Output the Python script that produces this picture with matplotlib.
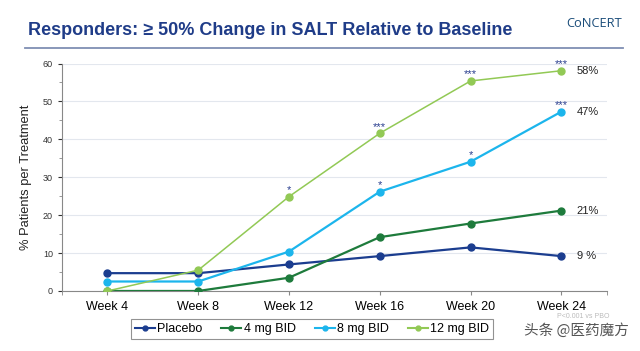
import matplotlib
matplotlib.use("Agg")
import matplotlib.pyplot as plt
from matplotlib.lines import Line2D

weeks = ["Week 4", "Week 8", "Week 12", "Week 16", "Week 20", "Week 24"]
placebo = [4.7, 4.7, 7.0, 9.2, 11.5, 9.2]
mg4 = [0.0, 0.0, 3.5, 14.2, 17.8, 21.2]
mg8 = [2.5, 2.5, 10.4, 26.2, 34.1, 47.3]
mg12 = [0.0, 5.5, 24.9, 41.6, 55.4, 58.1]
series_names = ["Placebo", "4 mg BID", "8 mg BID", "12 mg BID"]
end_labels = ["9 %", "21%", "47%", "58%"]
# significance marks: (series index, week index, text)
sig_marks = [(3, 2, "*"), (3, 3, "***"), (2, 3, "*"), (2, 4, "*"), (3, 4, "***"),
             (3, 5, "***"), (2, 5, "***")]

colors = ["#1B3D8F", "#1E7B3C", "#1CB5EC", "#92C955"]
plt.rcParams['font.family'] = ['Liberation Sans', 'DejaVu Sans']

fig = plt.figure(figsize=(6.4, 3.51), dpi=100)
ax = fig.add_axes([0.097, 0.171, 0.851, 0.648])

data = [placebo, mg4, mg8, mg12]
x = list(range(len(weeks)))
for i, (vals, c) in enumerate(zip(data, colors)):
    lw = 1.1 if i == 3 else 1.6
    ax.plot(x, vals, color=c, lw=lw, marker='o', ms=5, zorder=3)

for si, wi, t in sig_marks:
    ax.text(wi, data[si][wi] + 0.9, t, color="#2A3F8F", fontsize=8,
            ha='center', va='baseline')

for vals, lab in zip(data, end_labels):
    ax.text(5.17, vals[-1], lab, fontsize=8, va='center', ha='left', color='#222222')

ax.set_xlim(-0.5, 5.5)
ax.set_ylim(0, 60)
ax.set_xticks(x)
ax.set_xticks([-0.5, 5.5], minor=True)
ax.set_xticklabels(weeks, fontsize=9)
ax.set_yticks(range(0, 61, 10))
ax.set_yticks(range(0, 61, 5), minor=True)
ax.tick_params(axis='y', labelsize=6.5, colors='#333333', length=3)
ax.tick_params(axis='y', which='minor', length=2, color='#888888')
ax.tick_params(axis='x', which='both', length=3, color='#888888', pad=4)
ax.grid(axis='y', color='#E3E7EE', lw=0.8)
ax.set_axisbelow(True)
for s in ['top', 'right']:
    ax.spines[s].set_visible(False)
for s in ['left', 'bottom']:
    ax.spines[s].set_color('#888888')
ax.set_ylabel("% Patients per Treatment", fontsize=9.3, color='#222222', labelpad=8)

handles = [Line2D([0], [0], color=c, marker='o', ms=3.5, lw=1.5) for c in colors]
leg = fig.legend(handles, series_names, loc='center', bbox_to_anchor=(0.4875, 0.062),
                 ncol=4, fontsize=9, frameon=True, fancybox=False, edgecolor='#777777',
                 handlelength=1.6, handletextpad=0.2, columnspacing=1.5,
                 borderpad=0.3)
leg.get_frame().set_linewidth(0.8)

fig.text(0.044, 0.914, "Responders: ≥ 50% Change in SALT Relative to Baseline",
         fontsize=13, fontweight='bold', color='#1F3C88', va='center', ha='left')
fig.text(0.972, 0.934, "CoNCERT", fontsize=9.3, color='#1B4D7A', ha='right', va='center',
         family=['Open Sans', 'DejaVu Sans'])
fig.add_artist(Line2D([0.039, 0.973], [0.864, 0.864], color='#7F8FB3', lw=1.3))
fig.text(0.953, 0.097, "P<0.001 vs PBO", fontsize=5, color='#BBBBBB', ha='right', va='center')
fig.text(0.982, 0.058, "头条 @医药魔方", fontsize=10.5, color='#555555', ha='right', va='center',
         family=['Noto Sans CJK SC', 'DejaVu Sans'])

fig.savefig("out.png", dpi=100)
